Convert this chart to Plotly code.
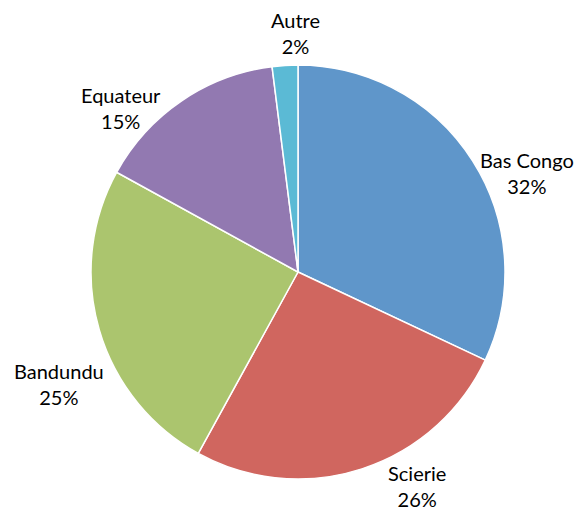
import math
import plotly.graph_objects as go

# Pie chart data
labels = ["Bas Congo", "Scierie", "Bandundu", "Equateur", "Autre"]
values = [32, 26, 25, 15, 2]
colors = ["#5F96CA", "#D0665F", "#ABC56E", "#9279B1", "#5BBAD5"]

# label placement (layout only): angular nudge from slice middle (deg) and distance from centre (px)
label_shift = [-9, 11, 9, 13, -3]
label_dist = [249, 245, 264, 241, 239]

W, H = 576, 511
cx, cy, r = 298, 272, 207  # pie centre / radius in pixels

fig = go.Figure(go.Pie(
    labels=labels,
    values=values,
    sort=False,
    direction="clockwise",
    rotation=0,
    marker=dict(colors=colors, line=dict(color="white", width=1.5)),
    textinfo="none",
    showlegend=False,
    hoverinfo="label+percent",
    domain=dict(x=[(cx - r) / W, (cx + r) / W],
                y=[(H - cy - r) / H, (H - cy + r) / H]),
))

# outside labels, placed around each slice's mid angle
total = sum(values)
cum = 0
for lab, v, sh, d in zip(labels, values, label_shift, label_dist):
    mid = cum + v / 2
    cum += v
    ang = math.radians(90 - 360 * mid / total + sh)
    px_ = cx + d * math.cos(ang)
    py_ = cy - d * math.sin(ang)
    fig.add_annotation(
        x=px_ / W, y=1 - py_ / H, xref="paper", yref="paper",
        text=f"{lab}<br>{round(100 * v / total)}%",
        showarrow=False, xanchor="center", yanchor="middle", align="center",
        font=dict(family="Lato", size=20, color="black"),
    )

fig.update_layout(
    width=W, height=H,
    margin=dict(l=0, r=0, t=0, b=0),
    paper_bgcolor="white",
    font=dict(family="Lato", size=20, color="black"),
)

# drop the page's default body margin so the chart fills the window
fig.write_html("out.html", config={"displayModeBar": False},
               post_script="document.body.style.margin='0';")
